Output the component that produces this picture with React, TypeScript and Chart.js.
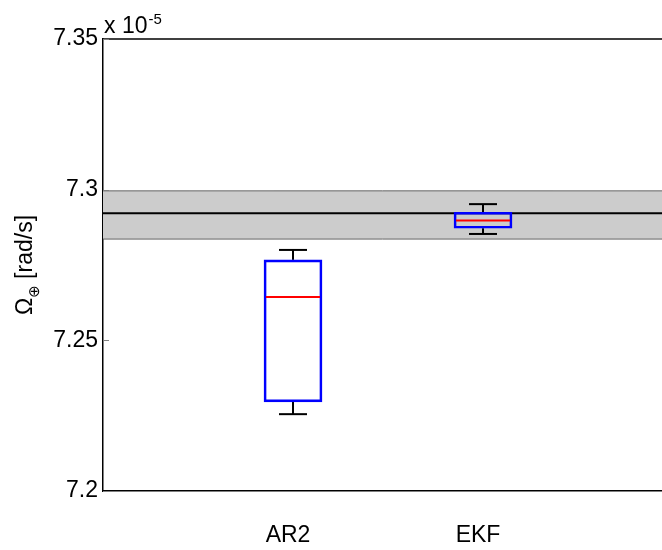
import React, { useEffect, useRef } from 'react';
import { Chart, registerables } from 'chart.js';

Chart.register(...registerables);

// ---- data ----
const CATEGORIES = ['AR2', 'EKF'];
const CATEGORY_POS = [1, 2];
const WHISKER_LOW = [7.2255, 7.2853];
const Q1 = [7.2296, 7.2872];
const MEDIAN = [7.2644, 7.2898];
const Q3 = [7.2767, 7.2925];
const WHISKER_HIGH = [7.28, 7.2952];
const REF_VALUE = 7.2922;
const BAND_LOW = 7.2836;
const BAND_HIGH = 7.2996;
const Y_TICKS = [7.2, 7.25, 7.3, 7.35];
const Y_TICK_LABELS = ['7.2', '7.25', '7.3', '7.35'];
const X_RANGE = [0, 2.942];
const Y_RANGE = [7.2, 7.35];
const EXPONENT_BASE = 'x 10';
const EXPONENT = '-5';
const Y_TITLE = ['Ω', '⊕', ' [rad/s]'];

const FONT = '"Liberation Sans", Arial, Helvetica, sans-serif';

const extrasPlugin = {
  id: 'extras',
  afterDraw(chart: any) {
    const { ctx, chartArea, scales } = chart;
    ctx.save();
    // top border
    ctx.strokeStyle = '#000';
    ctx.lineWidth = 1.5;
    ctx.beginPath();
    ctx.moveTo(chartArea.left, chartArea.top);
    ctx.lineTo(chartArea.right, chartArea.top);
    ctx.stroke();
    // inward y ticks
    ctx.strokeStyle = '#808080';
    ctx.lineWidth = 1;
    Y_TICKS.forEach((v) => {
      const y = Math.round(scales.y.getPixelForValue(v)) + 0.5;
      ctx.beginPath();
      ctx.moveTo(chartArea.left, y);
      ctx.lineTo(chartArea.left + 6, y);
      ctx.stroke();
    });
    // exponent
    ctx.fillStyle = '#000';
    ctx.textBaseline = 'alphabetic';
    ctx.textAlign = 'left';
    ctx.font = `23px ${FONT}`;
    ctx.fillText(EXPONENT_BASE, chartArea.left + 1, 33);
    const wb = ctx.measureText(EXPONENT_BASE).width;
    ctx.font = `15px ${FONT}`;
    ctx.fillText(EXPONENT, chartArea.left + wb + 2, 24);
    // y title
    const big = `23px ${FONT}`;
    const small = `15px "DejaVu Sans", ${FONT}`;
    ctx.font = big;
    const w1 = ctx.measureText(Y_TITLE[0]).width;
    const w3 = ctx.measureText(Y_TITLE[2]).width;
    ctx.font = small;
    const w2 = ctx.measureText(Y_TITLE[1]).width;
    const total = w1 + w2 + w3;
    const cy = 265;
    ctx.translate(32, cy);
    ctx.rotate(-Math.PI / 2);
    let x = -total / 2;
    ctx.font = big;
    ctx.fillText(Y_TITLE[0], x, 0);
    x += w1;
    ctx.font = small;
    ctx.fillText(Y_TITLE[1], x, 7);
    x += w2;
    ctx.font = big;
    ctx.fillText(Y_TITLE[2], x, 0);
    ctx.restore();
  },
};

export default function App() {
  const ref = useRef<HTMLCanvasElement | null>(null);
  useEffect(() => {
    if (!ref.current) return;
    const boxData = CATEGORY_POS.map((p, i) => ({ x: p, y: [Q1[i], Q3[i]] }));
    const whiskerSets = CATEGORY_POS.flatMap((p, i) => [
      [{ x: p, y: Q3[i] }, { x: p, y: WHISKER_HIGH[i] }],
      [{ x: p, y: Q1[i] }, { x: p, y: WHISKER_LOW[i] }],
    ]);
    const capData = CATEGORY_POS.flatMap((p, i) => [
      { x: p, y: WHISKER_HIGH[i] },
      { x: p, y: WHISKER_LOW[i] },
    ]);
    const medianData = CATEGORY_POS.map((p, i) => ({ x: p, y: MEDIAN[i] }));

    const datasets: any[] = [
      {
        type: 'line',
        data: [{ x: X_RANGE[0], y: BAND_HIGH }, { x: X_RANGE[1], y: BAND_HIGH }],
        borderColor: '#666666',
        borderWidth: 1,
        backgroundColor: '#cccccc',
        fill: { target: { value: BAND_LOW } },
        pointRadius: 0,
        order: 10,
      },
      {
        type: 'line',
        data: [{ x: X_RANGE[0], y: BAND_LOW }, { x: X_RANGE[1], y: BAND_LOW }],
        borderColor: '#666666',
        borderWidth: 1,
        fill: false,
        pointRadius: 0,
        order: 9,
      },
      {
        type: 'line',
        data: [{ x: X_RANGE[0], y: REF_VALUE }, { x: X_RANGE[1], y: REF_VALUE }],
        borderColor: '#000000',
        borderWidth: 2,
        fill: false,
        pointRadius: 0,
        order: 8,
      },
      ...whiskerSets.map((d) => ({
        type: 'line',
        data: d,
        borderColor: '#000000',
        borderWidth: 2,
        fill: false,
        pointRadius: 0,
        order: 5,
      })),
      {
        type: 'bar',
        data: boxData,
        borderColor: '#0000ff',
        backgroundColor: 'rgba(0,0,0,0)',
        borderWidth: 2,
        borderSkipped: false,
        barThickness: 58,
        grouped: false,
        order: 3,
      },
      {
        type: 'line',
        data: capData,
        showLine: false,
        pointStyle: 'line',
        pointRadius: 14,
        pointBorderWidth: 2,
        pointBorderColor: '#000000',
        borderColor: '#000000',
        order: 2,
      },
      {
        type: 'line',
        data: medianData,
        showLine: false,
        pointStyle: 'line',
        pointRadius: 27,
        pointBorderWidth: 2,
        pointBorderColor: '#ff0000',
        borderColor: '#ff0000',
        order: 1,
      },
    ];

    const chart = new Chart(ref.current, {
      type: 'bar',
      data: { datasets },
      plugins: [extrasPlugin],
      options: {
        responsive: false,
        animation: false,
        layout: { autoPadding: false, padding: { top: 39, left: 0, right: 0, bottom: 0 } },
        plugins: { legend: { display: false }, tooltip: { enabled: false } },
        scales: {
          x: {
            type: 'linear',
            offset: false,
            min: X_RANGE[0],
            max: X_RANGE[1],
            grid: { display: false, drawTicks: false, offset: false },
            border: { display: true, color: '#000', width: 1.5 },
            afterBuildTicks: (s: any) => {
              s.ticks = CATEGORY_POS.map((v) => ({ value: v }));
            },
            afterFit: (s: any) => {
              s.height = 59;
              s.paddingRight = 0;
              s.paddingLeft = 0;
            },
            ticks: {
              autoSkip: false,
              maxRotation: 0,
              padding: 31,
              labelOffset: -5,
              color: '#000',
              font: { family: FONT, size: 23 },
              callback: (v: any) => {
                const i = CATEGORY_POS.indexOf(Number(v));
                return i >= 0 ? CATEGORIES[i] : '';
              },
            },
          },
          y: {
            type: 'linear',
            min: Y_RANGE[0],
            max: Y_RANGE[1],
            grid: { display: false, drawTicks: false },
            border: { display: true, color: '#000', width: 1.5 },
            afterBuildTicks: (s: any) => {
              s.ticks = Y_TICKS.map((v) => ({ value: v }));
            },
            afterFit: (s: any) => {
              s.width = 103;
            },
            ticks: {
              padding: 5,
              color: '#000',
              font: { family: FONT, size: 23 },
              callback: (v: any, i: number) => Y_TICK_LABELS[i] ?? String(v),
            },
          },
        },
      } as any,
    });
    return () => chart.destroy();
  }, []);

  return (
    <div style={{ position: 'absolute', left: 0, top: 0, width: 662, height: 550, background: '#fff' }}>
      <canvas ref={ref} width={662} height={550} style={{ display: 'block' }} />
    </div>
  );
}
